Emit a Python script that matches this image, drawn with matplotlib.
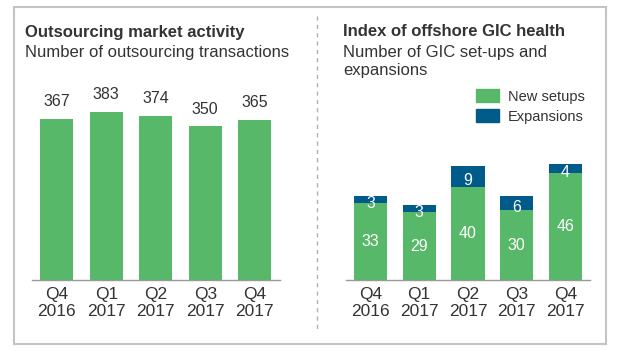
import matplotlib.pyplot as plt
from matplotlib.patches import Rectangle, Patch
from matplotlib.lines import Line2D

plt.rcParams['font.family'] = ['Liberation Sans', 'DejaVu Sans']

quarters = ['Q4\n2016', 'Q1\n2017', 'Q2\n2017', 'Q3\n2017', 'Q4\n2017']
transactions = [367, 383, 374, 350, 365]
new_setups = [33, 29, 40, 30, 46]
expansions = [3, 3, 9, 6, 4]

GREEN = '#56b868'
BLUE = '#005a8a'
TXT = '#333333'

W, H = 624, 356
fig = plt.figure(figsize=(W / 100, H / 100), dpi=100)

def px_axes(x0, x1, y_top, y_base):
    # pixel box -> figure coords
    return fig.add_axes([x0 / W, 1 - y_base / H, (x1 - x0) / W, (y_base - y_top) / H])

def style(ax):
    for s in ['top', 'right', 'left']:
        ax.spines[s].set_visible(False)
    ax.spines['bottom'].set_color('#999999')
    ax.spines['bottom'].set_linewidth(1)
    ax.set_yticks([])
    ax.tick_params(axis='x', length=0, pad=5, labelsize=12.5, labelcolor=TXT)
    ax.set_xlim(-0.5, 4.5)

# left chart
ax1 = px_axes(32, 279.5, 80, 280)
ax1.bar(range(5), transactions, width=0.67, color=GREEN)
ax1.set_ylim(0, 200 / 0.439)
for i, v in enumerate(transactions):
    ax1.annotate(str(v), (i, v), xytext=(0, 17), textcoords='offset pixels',
                 ha='center', va='center', fontsize=11.5, color=TXT)
ax1.set_xticks(range(5), quarters, linespacing=1.2)
style(ax1)

# right chart
ax2 = px_axes(346, 590, 80, 280)
ax2.bar(range(5), new_setups, width=0.68, color=GREEN, label='New setups')
ax2.bar(range(5), expansions, width=0.68, bottom=new_setups, color=BLUE, label='Expansions')
ax2.set_ylim(0, 200 / 2.33)
for i in range(5):
    ax2.text(i, new_setups[i] / 2, str(new_setups[i]), ha='center', va='center',
             fontsize=11.5, color='white')
    ax2.annotate(str(expansions[i]), (i, new_setups[i] + expansions[i] / 2),
                 xytext=(0, -4), textcoords='offset pixels',
                 ha='center', va='center', fontsize=11.5, color='white')
ax2.set_xticks(range(5), quarters, linespacing=1.2)
style(ax2)

handles = [Patch(color=GREEN), Patch(color=BLUE)]
fig.legend(handles, ['New setups', 'Expansions'], loc='upper left',
           bbox_to_anchor=(476 / W, 1 - 89 / H), frameon=False, fontsize=10.5,
           handlelength=1.6, handleheight=1.0, handletextpad=0.6, labelspacing=0.4,
           labelcolor=TXT, borderpad=0, borderaxespad=0)

# titles
fig.text(25 / W, 1 - 32 / H, 'Outsourcing market activity', fontsize=12,
         fontweight='bold', color=TXT, va='center')
fig.text(25 / W, 1 - 52 / H, 'Number of outsourcing transactions', fontsize=12,
         color=TXT, va='center')
fig.text(343 / W, 1 - 32 / H, 'Index of offshore GIC health', fontsize=12,
         fontweight='bold', color=TXT, va='center')
fig.text(343 / W, 1 - 62 / H, 'Number of GIC set-ups and\nexpansions', fontsize=12,
         color=TXT, va='center', linespacing=1.25)

# frame and divider
fig.patches.append(Rectangle((14 / W, 1 - 344 / H), 592 / W, 337 / H, fill=False,
                             edgecolor='#c4c4c4', lw=1.5, transform=fig.transFigure))
fig.lines.append(Line2D([316.5 / W, 316.5 / W], [1 - 16 / H, 1 - 332 / H],
                        color='#b0b0b0', lw=1, ls=(0, (3, 3)), transform=fig.transFigure))

fig.savefig('out.png', dpi=100)
